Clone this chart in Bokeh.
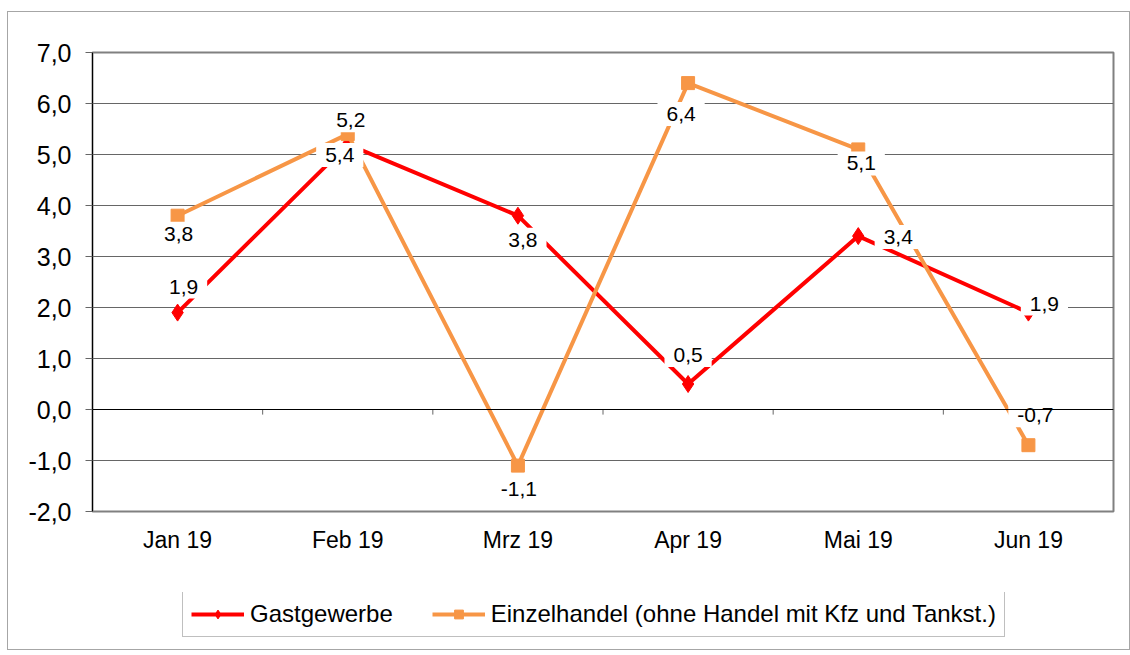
import numpy as np
from bokeh.plotting import figure
from bokeh.layouts import column
from bokeh.models import (Range1d, FixedTicker, SingleIntervalTicker, CustomJSTickFormatter,
                          Span, Legend, LegendItem, ColumnDataSource)
from bokeh.core.properties import value
from bokeh.embed import file_html
from bokeh.resources import INLINE

# ---- data ----
months = ["Jan 19", "Feb 19", "Mrz 19", "Apr 19", "Mai 19", "Jun 19"]
gastgewerbe = [1.9, 5.2, 3.8, 0.5, 3.4, 1.9]
einzelhandel = [3.8, 5.4, -1.1, 6.4, 5.1, -0.7]
series_names = ["Gastgewerbe", "Einzelhandel (ohne Handel mit Kfz und Tankst.)"]
y_min, y_max = -2, 7

# label placement (screen px offsets, style only)
gast_dx = [6, 3, 5, 0, 40, 16]
gast_dy = [-26, -24, 24, -29, 1, -9]
einz_dx = [1, -8, 1, -7, 3, 7]
einz_dy = [18, 21, 23, 31, 14, -30]

FONT = "Liberation Sans"
RED = "#FF0000"
ORANGE = "#F79646"

x = list(range(len(months)))

def fmt(v):
    return f"{v:.1f}".replace(".", ",")

# ---------------- main chart ----------------
p = figure(width=1121, height=580, output_backend="svg", toolbar_location=None,
           x_range=Range1d(-0.5, len(months) - 0.5), y_range=Range1d(y_min, y_max),
           min_border_left=84, min_border_right=16, min_border_top=40, min_border_bottom=81)
p.background_fill_color = "white"
p.border_fill_color = "white"
p.outline_line_color = "#808080"
p.outline_line_width = 2

p.xgrid.grid_line_color = None
p.ygrid.grid_line_color = "#666666"
p.ygrid.grid_line_width = 1
p.ygrid.ticker = SingleIntervalTicker(interval=1)

p.yaxis.ticker = SingleIntervalTicker(interval=1)
p.yaxis.formatter = CustomJSTickFormatter(code="return tick.toFixed(1).replace('.', ',');")
p.yaxis.axis_line_color = "black"
p.yaxis.major_tick_out = 7
p.yaxis.major_tick_in = 0
p.yaxis.major_tick_line_color = "#666666"
p.yaxis.minor_tick_line_color = None
p.yaxis.major_label_text_font = FONT
p.yaxis.major_label_text_font_size = "25px"
p.yaxis.major_label_text_color = "black"
p.yaxis.major_label_standoff = 14

p.xaxis.ticker = FixedTicker(ticks=x)
p.xaxis.major_label_overrides = {i: m for i, m in enumerate(months)}
p.xaxis.axis_line_color = None
p.xaxis.major_tick_line_color = None
p.xaxis.major_tick_out = 0
p.xaxis.major_tick_in = 0
p.xaxis.minor_tick_line_color = None
p.xaxis.major_label_text_font = FONT
p.xaxis.major_label_text_font_size = "23px"
p.xaxis.major_label_text_color = "black"
p.xaxis.major_label_standoff = 15

# zero line with category boundary ticks
p.add_layout(Span(location=0, dimension="width", line_color="black", line_width=1))
bounds = [i + 0.5 for i in range(len(months) - 1)]
p.segment(x0=bounds, y0=[0] * len(bounds), x1=bounds, y1=[-0.1] * len(bounds),
          line_color="#666666", line_width=1)

line_kw = dict(line_width=4)
p.line(x, gastgewerbe, line_color=RED, **line_kw)
p.scatter(x, gastgewerbe, marker="diamond", size=17, fill_color=RED, line_color=RED)
p.line(x, einzelhandel, line_color=ORANGE, **line_kw)
p.scatter(x, einzelhandel, marker="square", size=13, fill_color=ORANGE, line_color=ORANGE)

src = ColumnDataSource(dict(
    x=x + x,
    y=gastgewerbe + einzelhandel,
    t=[fmt(v) for v in gastgewerbe] + [fmt(v) for v in einzelhandel],
    dx=gast_dx + einz_dx,
    dy=gast_dy + einz_dy,
))
p.text(x="x", y="y", text="t", x_offset="dx", y_offset="dy", source=src,
       text_align="center", text_baseline="middle",
       text_font=value(FONT), text_font_size="21px", text_color="black",
       background_fill_color="white", padding=dict(left=9, right=9, top=5, bottom=5))

# ---------------- legend strip ----------------
# series renderers live outside the visible range; only the legend is seen
p2 = figure(width=1121, height=57, output_backend="svg", toolbar_location=None,
            x_axis_location=None, y_axis_location=None,
            x_range=Range1d(-0.5, len(months) - 0.5), y_range=Range1d(y_max + 10, y_max + 11),
            min_border_left=0, min_border_right=0, min_border_top=0, min_border_bottom=0,
            outline_line_color=None)
p2.grid.visible = False
p2.background_fill_color = "white"
p2.border_fill_color = "white"
l_r_line = p2.line(x, gastgewerbe, line_color=RED, **line_kw)
l_r_mark = p2.scatter(x, gastgewerbe, marker="diamond", size=15, fill_color=RED, line_color=RED)
l_o_line = p2.line(x, einzelhandel, line_color=ORANGE, **line_kw)
l_o_mark = p2.scatter(x, einzelhandel, marker="square", size=12, fill_color=ORANGE, line_color=ORANGE)

legend = Legend(items=[LegendItem(label=series_names[0], renderers=[l_r_line, l_r_mark]),
                       LegendItem(label=series_names[1], renderers=[l_o_line, l_o_mark])],
                orientation="horizontal", location=(90, 12),
                glyph_width=53, glyph_height=22, label_standoff=6, spacing=39,
                padding=8, margin=0, border_line_color="#808080", border_line_width=1,
                background_fill_color="white", background_fill_alpha=1,
                label_text_font=FONT, label_text_font_size="24px", label_text_color="black")
p2.add_layout(legend, "center")

layout = column(p, p2, spacing=0)
layout.margin = (11, 0, 0, 7)
layout.styles = {"border": "1px solid #a6a6a6"}

open("out.html", "w").write(file_html(layout, INLINE))
